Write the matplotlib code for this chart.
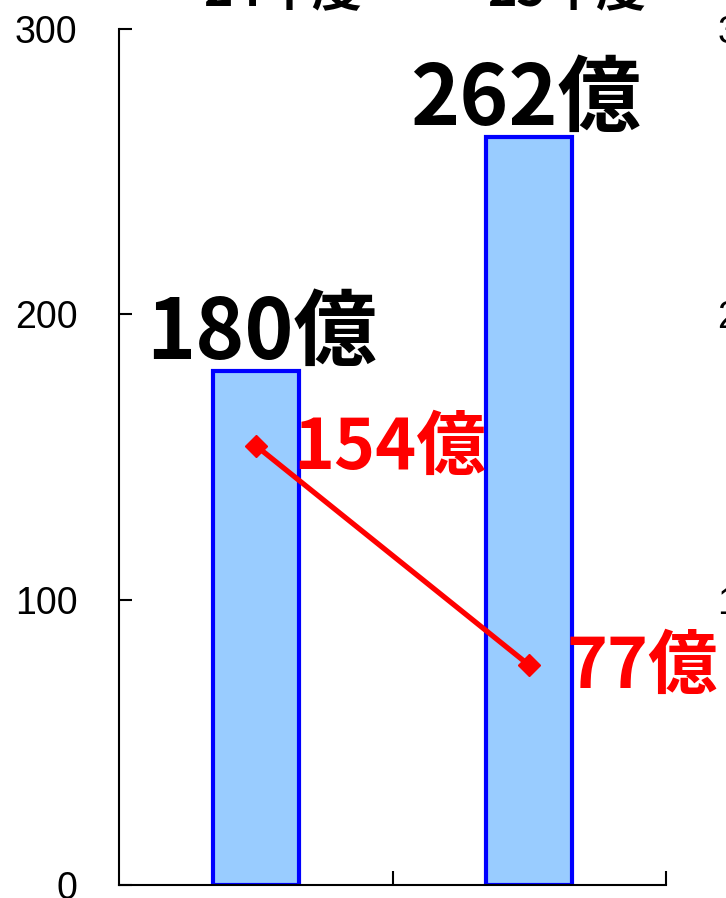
import numpy as np
import matplotlib
matplotlib.use("Agg")
import matplotlib.pyplot as plt

# ── Data ──────────────────────────────────────────
CATEGORIES = ['24年度', '25年度']
BAR_VALUES = [180, 262]
LINE_VALUES = [154, 77]
BAR_LABELS = ['180億', '262億']
LINE_LABELS = ['154億', '77億']
Y_TICKS = [0, 100, 200, 300]
Y2_TICKS = [100, 200, 300]

JP = ['Noto Sans CJK JP', 'DejaVu Sans']
plt.rcParams['font.family'] = ['Liberation Sans', 'DejaVu Sans']

fig = plt.figure(figsize=(7.26, 8.98), dpi=100)
ax = fig.add_axes([119 / 726, 13 / 898, 547 / 726, 856 / 898])

x = np.arange(len(CATEGORIES))
ax.bar(x, BAR_VALUES, width=0.315, color='#99CCFF', edgecolor='#0000FF',
       linewidth=3, zorder=2)
ax.plot(x, LINE_VALUES, color='#FF0000', linewidth=3.8, marker='D',
        markersize=11, zorder=3)

ax.set_xlim(-0.5, 1.5)
ax.set_ylim(0, 300)
ax.set_yticks(Y_TICKS)
ax.set_yticklabels([str(v) for v in Y_TICKS], fontsize=27)
ax.tick_params(axis='y', direction='in', length=9, width=1.5, pad=30)
ax.set_xticks([0.5, 1.5])
ax.set_xticklabels([])
ax.tick_params(axis='x', direction='in', length=10, width=1.5)
for s in ['top', 'right']:
    ax.spines[s].set_visible(False)
for s in ['left', 'bottom']:
    ax.spines[s].set_linewidth(1.5)

# secondary axis labels (cut off at the right edge)
ax2 = ax.twinx()
ax2.set_ylim(0, 300)
ax2.set_yticks(Y2_TICKS)
ax2.set_yticklabels([str(v) for v in Y2_TICKS], fontsize=27)
ax2.tick_params(axis='y', length=0, pad=37)
for s in ax2.spines.values():
    s.set_visible(False)

# data labels
for xi, v, lab, dx in zip(x, BAR_VALUES, BAR_LABELS, [4, -3]):
    ax.annotate(lab, (xi, v), xytext=(dx, 9), textcoords='offset points',
                ha='center', va='baseline', fontsize=60, fontweight='bold',
                family=JP, color='black', zorder=4)
for xi, v, lab in zip(x, LINE_VALUES, LINE_LABELS):
    ax.annotate(lab, (xi, v), xytext=(27, -2), textcoords='offset points',
                ha='left', va='center', fontsize=50, fontweight='bold',
                family=JP, color='#FF0000', zorder=4)

# category labels (cut off at the top)
for xc, lab in zip([283, 567], CATEGORIES):
    fig.text(xc / 726, 1 - 6 / 898, lab, ha='center', va='baseline',
             fontsize=36, fontweight='bold', family=JP)

fig.savefig('out.png', dpi=100)
